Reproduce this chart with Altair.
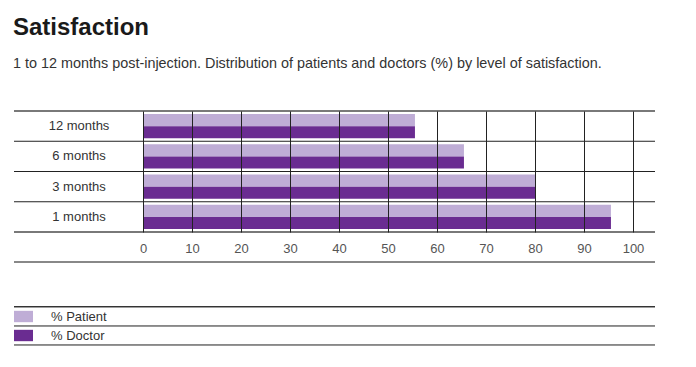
import altair as alt
import pandas as pd

periods = ["12 months", "6 months", "3 months", "1 months"]
series = ["% Patient", "% Doctor"]
patient = [55.5, 65.5, 80, 95.5]
doctor = [55.5, 65.5, 80, 95.5]
x_ticks = [0, 10, 20, 30, 40, 50, 60, 70, 80, 90, 100]

rows = []
for p, a, b in zip(periods, patient, doctor):
    rows.append({"period": p, "series": series[0], "value": a})
    rows.append({"period": p, "series": series[1], "value": b})
df = pd.DataFrame(rows)
pdf = pd.DataFrame({"period": periods[1:]})

W, H = 490, 121
LEFT = -129
RIGHT = 512

ysc = alt.Scale(domain=periods, paddingInner=0, paddingOuter=0)

bars = alt.Chart(df).mark_bar().encode(
    x=alt.X("value:Q", scale=alt.Scale(domain=[0, 100], nice=False),
            axis=alt.Axis(values=x_ticks, title=None, grid=True, gridColor="#222",
                          gridWidth=1, domain=False, ticks=False, labelPadding=10,
                          labelFlush=False,
                          labelFontSize=13, labelColor="#555", labelFont="Liberation Sans",
                          zindex=1)),
    y=alt.Y("period:N", sort=periods, scale=ysc,
            axis=alt.Axis(title=None, domain=False, ticks=False, grid=False,
                          labelAlign="center", labelPadding=64.5, labelFontSize=13,
                          labelColor="#333", labelFont="Liberation Sans")),
    yOffset=alt.YOffset("series:N", sort=series,
                        scale=alt.Scale(paddingOuter=0.25, paddingInner=0)),
    color=alt.Color("series:N", sort=series,
                    scale=alt.Scale(domain=series, range=["#bfadd6", "#6a2c91"]),
                    legend=alt.Legend(title=None, orient="none", legendX=-129, legendY=196,
                                      symbolType="M-1,-0.6H1V0.6H-1Z", symbolSize=360,
                                      symbolStrokeWidth=0, symbolOpacity=1,
                                      labelFontSize=13, labelColor="#333",
                                      labelFont="Liberation Sans", labelOffset=18,
                                      rowPadding=2)),
)

inner = alt.Chart(pdf).mark_rule(color="#222", strokeWidth=1).encode(
    y=alt.Y("period:N", sort=periods, scale=ysc, bandPosition=0),
    x=alt.value(LEFT), x2=alt.value(RIGHT),
)

def hline(y, color, w):
    return alt.Chart(pdf).mark_rule(color=color, strokeWidth=w).encode(
        y=alt.value(y), x=alt.value(LEFT), x2=alt.value(RIGHT))

lines = [
    hline(0, "#777", 1.5),
    hline(H, "#777", 1.5),
    hline(151, "#888", 2),
    hline(195.7, "#333", 1),
    hline(214.7, "#888", 1.5),
    hline(233.7, "#888", 1.5),
]

chart = alt.layer(bars, inner, *lines).properties(
    width=W, height=H,
    autosize=alt.AutoSizeParams(type="none"),
    padding={"left": 135, "top": 103, "right": 55, "bottom": 127},
    title=alt.TitleParams(
        text="Satisfaction",
        subtitle="1 to 12 months post-injection. Distribution of patients and doctors (%) by level of satisfaction.",
        anchor="start", offset=40,
        font="Liberation Sans", fontSize=24, fontWeight="bold",
        color="#1a1a1a",
        subtitleFont="Liberation Sans", subtitleFontSize=14.4, subtitleColor="#333",
        subtitlePadding=17,
    ),
).configure_view(stroke=None)

chart.save("out.html", embed_options={"renderer": "svg", "actions": False})
